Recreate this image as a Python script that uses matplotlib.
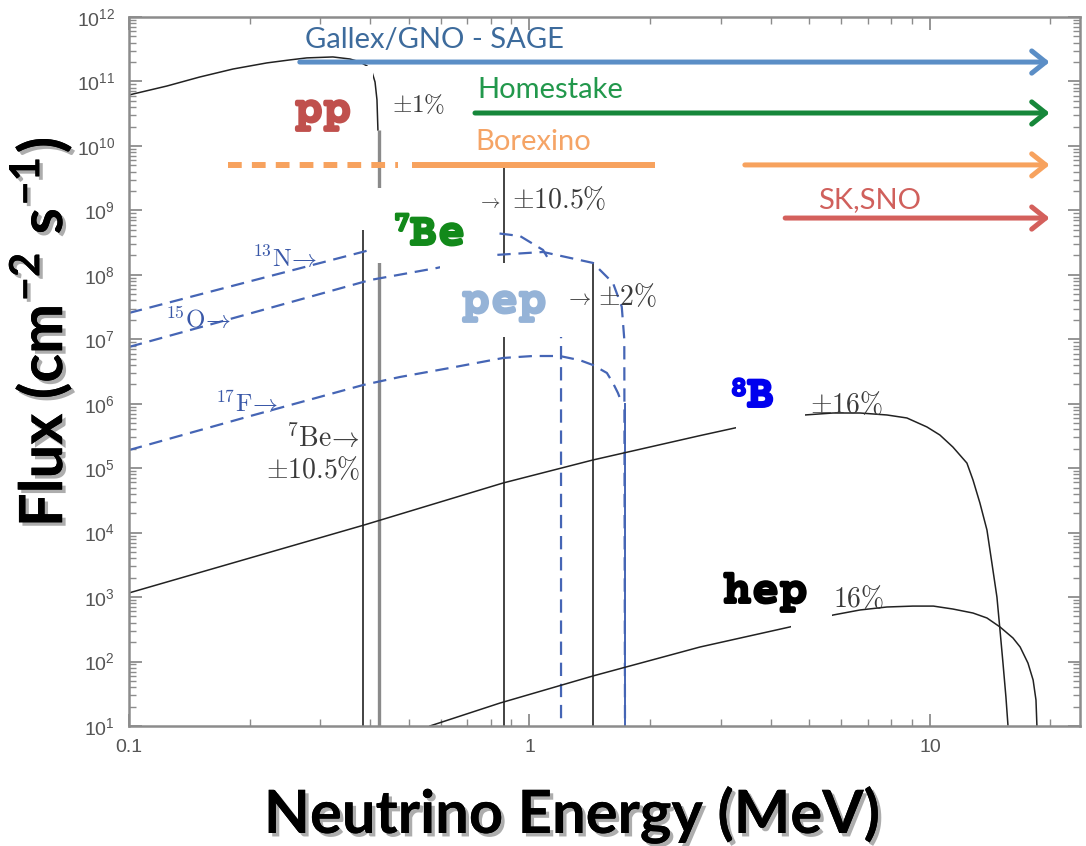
import numpy as np
import matplotlib
matplotlib.use("Agg")
import matplotlib.pyplot as plt
import matplotlib.patheffects as pe
from matplotlib import font_manager
from matplotlib.font_manager import FontProperties
from matplotlib.patches import Rectangle
from matplotlib.ticker import LogLocator, FuncFormatter, NullFormatter

plt.rcParams['mathtext.fontset'] = 'cm'

# solar neutrino spectra (energy in MeV, flux)
pp_E = [0.100, 0.1244, 0.150, 0.1819, 0.221, 0.2523, 0.278, 0.323, 0.3563, 0.377, 0.3929,
        0.4044, 0.4115, 0.4161, 0.4184]
pp_F = [6.17e10, 8.5e10, 1.17e11, 1.56e11, 1.94e11, 2.16e11, 2.32e11, 2.40e11, 2.23e11,
        2.01e11, 1.74e11, 1.40e11, 9.8e10, 5.2e10, 1.77e10]
pp_end = 0.42

n13_E = [0.1, 0.2, 0.40, 0.564, 0.82, 0.947, 1.081, 1.15, 1.199, 1.199]
n13_F = [2.56e7, 7.9e7, 2.43e8, 3.7e8, 4.46e8, 4.0e8, 2.43e8, 1.28e8, 6.0e7, 10]

o15_E = [0.1, 0.2, 0.40, 0.588, 0.82, 1.081, 1.44, 1.616, 1.70, 1.725, 1.732]
o15_F = [7.6e6, 2.5e7, 8.3e7, 1.28e8, 2.03e8, 2.26e8, 1.53e8, 7.5e7, 3.2e7, 1.0e7, 10]

f17_E = [0.1, 0.2, 0.384, 0.475, 0.633, 0.86, 1.02, 1.19, 1.337, 1.44, 1.561, 1.616, 1.663, 1.70]
f17_F = [1.91e5, 6.4e5, 1.95e6, 2.6e6, 3.59e6, 5.13e6, 5.5e6, 5.5e6, 4.73e6, 3.99e6, 3.0e6,
         2.1e6, 1.47e6, 1.03e6]
f17_end = 1.73

b8_E = [0.1, 0.386, 0.86, 1.44, 2.665, 3.26, 4.87, 5.73, 6.69, 7.81, 8.76, 9.83, 10.59,
        11.41, 12.37, 12.81, 13.33, 13.88, 14.28, 14.70, 14.96, 15.22, 15.48, 15.66]
b8_F = [1.16e3, 1.31e4, 5.9e4, 1.34e5, 3.2e5, 4.21e5, 6.69e5, 7.18e5, 7.18e5, 6.69e5, 6.01e5,
        4.36e5, 3.27e5, 2.13e5, 1.20e5, 6.56e4, 2.88e4, 1.10e4, 3.38e3, 1.0e3, 309, 94.8,
        28.2, 10.4]

hep_E = [0.564, 0.844, 1.44, 2.665, 4.47, 5.73, 6.69, 7.81, 9.07, 10.2, 11.41, 12.81, 13.88,
         14.96, 16.12, 16.8, 17.57, 18.1, 18.4, 18.5]
hep_F = [10, 22.7, 59.7, 168, 344, 527, 631, 702, 725, 725, 653, 566, 474, 344, 232, 168,
         94.8, 51.7, 25.3, 10]

# monoenergetic lines: 7Be (0.384), 7Be (0.862), pep (1.442)
line_E = [0.384, 0.862, 1.442]
line_top = [5.0e8, 4.5e9, 1.58e8]

# experiment sensitivity ranges
exp_names = ['Gallex/GNO - SAGE', 'Homestake', 'Borexino', 'SK,SNO']
exp_start = [0.267, 0.731, 3.45, 4.35]
exp_end = 19.9
exp_level = [2.0e11, 3.24e10, 5.07e9, 7.6e8]
exp_colors = ['#5b8ec6', '#16873a', '#f7a25e', '#d4605c']
exp_text_colors = ['#3d6b9c', '#22984c', '#f5a466', '#d0605c']
borexino_dash = [0.177, 0.47]
borexino_solid = [0.51, 2.06]

installed = {f.name for f in font_manager.fontManager.ttflist}
slab = next(f for f in ['Courier Prime', 'Liberation Mono', 'DejaVu Serif'] if f in installed)
tickfont = 'Liberation Sans' if 'Liberation Sans' in installed else 'DejaVu Sans'

fig = plt.figure(figsize=(10.86, 8.46), dpi=100)
ax = fig.add_axes([129 / 1086, 120 / 846, 951 / 1086, 709 / 846])
ax.set_xscale('log')
ax.set_yscale('log')
ax.set_xlim(0.1, 23.7)
ax.set_ylim(10, 1e12)


def at(x, y):
    # position measured in the reference picture -> axes fraction
    return (x - 129) / 951, (726 - y) / 709


blue = '#4565b5'
dash = (0, (6, 3.5))
ax.plot(pp_E, pp_F, color='#222222', lw=1.1, zorder=2)
ax.vlines(pp_end, 10, pp_F[-1], color='#8a8a8a', lw=2.4, zorder=2)
ax.vlines(line_E, 10, line_top, color='#222222', lw=1.2, zorder=2)
ax.plot(n13_E, n13_F, color=blue, lw=1.6, ls=dash, zorder=2)
ax.plot(o15_E, o15_F, color=blue, lw=1.6, ls=dash, zorder=2)
ax.plot(f17_E, f17_F, color=blue, lw=1.6, ls=dash, zorder=2)
ax.vlines(f17_end, 10, f17_F[-1], color=blue, lw=1.4, zorder=2)
ax.plot(b8_E, b8_F, color='#222222', lw=1.1, zorder=2)
ax.plot(hep_E, hep_F, color='#222222', lw=1.1, zorder=2)

# white patches pasted under the big labels
for x0, y0, x1, y1 in [(282, 66, 373, 188), (369, 188, 497, 263), (440, 263, 586, 337),
                       (736, 360, 805, 432), (791, 565, 832, 635)]:
    fx0, fy1 = at(x0, y0)
    fx1, fy0 = at(x1, y1)
    ax.add_patch(Rectangle((fx0, fy0), fx1 - fx0, fy1 - fy0, transform=ax.transAxes,
                           facecolor='white', edgecolor='none', zorder=3))

big_font = FontProperties(family=slab, weight='bold', size=34)
sup_font = FontProperties(family=slab, weight='bold', size=22)
for txt, x, y, col in [('pp', 295, 122, '#c0504d'), ('Be', 409, 245, '#12891a'),
                       ('pep', 462, 313, '#95b3d7'), ('B', 746, 407, '#0000ee'),
                       ('hep', 723, 603, '#000000')]:
    ax.text(*at(x, y), txt, color=col, ha='left', va='baseline', fontproperties=big_font,
            transform=ax.transAxes, zorder=4,
            path_effects=[pe.withStroke(linewidth=1.4, foreground=col)])
for txt, x, y, col in [('7', 411, 212, '#12891a'), ('8', 748, 377, '#0000ee')]:
    ax.text(*at(x, y), txt, color=col, ha='right', va='top', fontproperties=sup_font,
            transform=ax.transAxes, zorder=4,
            path_effects=[pe.withStroke(linewidth=1.0, foreground=col)])

# experiment arrows
for name, x0, lvl, col in zip(exp_names, exp_start, exp_level, exp_colors):
    ax.annotate('', xy=(exp_end, lvl), xytext=(x0, lvl), zorder=5,
                arrowprops=dict(arrowstyle='->,head_length=0.5,head_width=0.4', color=col,
                                lw=3.6, mutation_scale=20, shrinkA=0, shrinkB=0))
ax.plot(borexino_dash, [exp_level[2]] * 2, color=exp_colors[2], lw=4.3, ls=(0, (2.3, 1.7)),
        dash_capstyle='butt', zorder=5)
ax.plot(borexino_solid, [exp_level[2]] * 2, color=exp_colors[2], lw=4.3,
        solid_capstyle='butt', zorder=5)
for name, (x, y), tcol in zip(exp_names, [(305, 48), (477, 98), (475, 150), (818, 208)],
                              exp_text_colors):
    ax.text(*at(x, y), name, color=tcol, family='Lato', fontsize=21, ha='left',
            va='baseline', transform=ax.transAxes, zorder=6)

# small annotations
grey = '#3a3a3a'
small = [(r'$\pm1\%$', 392, 112, 'left', 18, grey),
         (r'$\rightarrow$', 501, 208, 'right', 14, grey),
         (r'$\pm10.5\%$', 512, 208, 'left', 20, grey),
         (r'$\rightarrow$', 592, 305, 'right', 16, grey),
         (r'$\pm2\%$', 598, 305, 'left', 20, grey),
         (r'$\pm16\%$', 810, 413, 'left', 20, grey),
         (r'$16\%$', 833, 607, 'left', 20, grey),
         (r'$^{7}\mathrm{Be}\!\rightarrow$', 360, 447, 'right', 20, grey),
         (r'$\pm10.5\%$', 360, 478, 'right', 20, grey),
         (r'$^{13}\mathrm{N}\!\rightarrow$', 252, 267, 'left', 18, '#3a58a8'),
         (r'$^{15}\mathrm{O}\!\rightarrow$', 165, 328, 'left', 18, '#3a58a8'),
         (r'$^{17}\mathrm{F}\!\rightarrow$', 215, 412, 'left', 18, '#3a58a8')]
for txt, x, y, ha, fs, col in small:
    ax.text(*at(x, y), txt, color=col, fontsize=fs, ha=ha, va='baseline',
            transform=ax.transAxes, zorder=6)

# axes styling
frame = '#8c8c8c'
for sp in ax.spines.values():
    sp.set_color(frame)
    sp.set_linewidth(1.8)
ax.yaxis.set_major_locator(LogLocator(base=10, numticks=20))
ax.yaxis.set_minor_locator(LogLocator(base=10, subs=np.arange(2, 10), numticks=20))
ax.yaxis.set_minor_formatter(NullFormatter())
ax.yaxis.set_major_formatter(FuncFormatter(lambda v, p: r'$\mathregular{10^{%d}}$' % round(np.log10(v))))
ax.xaxis.set_major_locator(LogLocator(base=10, numticks=10))
ax.xaxis.set_minor_locator(LogLocator(base=10, subs=np.arange(2, 10), numticks=10))
ax.xaxis.set_minor_formatter(NullFormatter())
ax.xaxis.set_major_formatter(FuncFormatter(lambda v, p: '%g' % v))
ax.tick_params(which='both', direction='in', top=True, right=True, color=frame,
               labelcolor='#555555', labelsize=14, labelfontfamily=tickfont)
ax.tick_params(which='major', length=9, width=1.3)
ax.tick_params(which='minor', length=5, width=1.0)
ax.tick_params(axis='y', pad=10)
ax.tick_params(axis='x', pad=9)

shadow = [pe.withSimplePatchShadow(offset=(2.5, -2.5), shadow_rgbFace='#777777', alpha=0.6),
          pe.Normal()]
fig.text(572 / 1086, (846 - 833) / 846, 'Neutrino Energy (MeV)', family='Lato',
         weight='bold', fontsize=43, ha='center', va='baseline', path_effects=shadow)
fig.text(41 / 1086, 1 - 332 / 846, r'Flux (cm$^{\mathregular{-2}}$ s$^{\mathregular{-1}}$)',
         family='Lato', weight='bold', fontsize=43, rotation=90, ha='center', va='center',
         path_effects=shadow)

fig.savefig('out.png', dpi=100)
